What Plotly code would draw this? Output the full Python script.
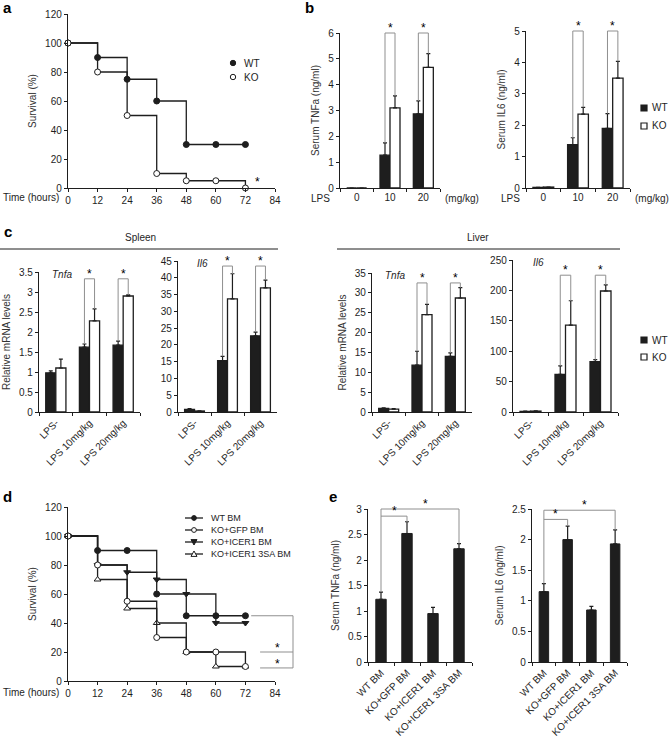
import plotly.graph_objects as go

W, H = 669, 744
FONT = "Liberation Sans, Arial, sans-serif"
INK = "#1e1e1e"
GRAY = "#8f8f8f"

# ---------------- data ----------------
time_h = [0, 12, 24, 36, 48, 60, 72]
surv_a_wt = [100, 90, 75, 60, 30, 30, 30]
surv_a_ko = [100, 80, 50, 10, 5, 5, 0]

lps_dose = ["0", "10", "20"]
tnf_serum_wt = [0.0, 1.27, 2.87]
tnf_serum_wt_err = [0.0, 0.48, 0.50]
tnf_serum_ko = [0.0, 3.10, 4.67]
tnf_serum_ko_err = [0.0, 0.47, 0.53]
il6_serum_wt = [0.02, 1.38, 1.90]
il6_serum_wt_err = [0.0, 0.22, 0.47]
il6_serum_ko = [0.03, 2.35, 3.50]
il6_serum_ko_err = [0.0, 0.22, 0.53]

lps_group = ["LPS-", "LPS 10mg/kg", "LPS 20mg/kg"]
spleen_tnf_wt = [0.98, 1.62, 1.67]
spleen_tnf_wt_err = [0.05, 0.08, 0.10]
spleen_tnf_ko = [1.10, 2.28, 2.90]
spleen_tnf_ko_err = [0.22, 0.30, 0.03]
spleen_il6_wt = [0.8, 15.3, 22.7]
spleen_il6_wt_err = [0.2, 1.3, 1.1]
spleen_il6_ko = [0.3, 33.7, 37.0]
spleen_il6_ko_err = [0.05, 7.5, 2.3]
liver_tnf_wt = [0.9, 11.8, 14.0]
liver_tnf_wt_err = [0.15, 3.5, 0.9]
liver_tnf_ko = [0.7, 24.5, 28.7]
liver_tnf_ko_err = [0.15, 2.6, 2.6]
liver_il6_wt = [1.0, 62.0, 83.0]
liver_il6_wt_err = [0.3, 14.0, 3.0]
liver_il6_ko = [1.5, 143.0, 199.0]
liver_il6_ko_err = [0.3, 40.0, 10.0]

surv_d_wt = [100, 90, 90, 60, 45, 45, 45]
surv_d_gfp = [100, 80, 55, 30, 20, 20, 10]
surv_d_icer1 = [100, 80, 75, 70, 60, 40, 40]
surv_d_3sa = [100, 70, 50, 40, 20, 10, 10]

bm_group = ["WT BM", "KO+GFP BM", "KO+ICER1 BM", "KO+ICER1 3SA BM"]
tnf_bm = [1.23, 2.52, 0.95, 2.22]
tnf_bm_err = [0.14, 0.23, 0.12, 0.10]
il6_bm = [1.15, 2.00, 0.85, 1.93]
il6_bm_err = [0.13, 0.22, 0.06, 0.23]

# ---------------- helpers ----------------
def fx(p):
    return p / W


def fy(p):
    return 1 - p / H


fig = go.Figure()
layout = {}
shapes = []
annos = []

tick_font = dict(family=FONT, size=10, color=INK)


def make_axes(n, x0, x1, y0, y1, xkw, ykw):
    s = "" if n == 1 else str(n)
    base = dict(showline=True, linecolor=INK, linewidth=1.2, ticks="outside",
                ticklen=3, tickwidth=1, tickcolor=INK, showgrid=False,
                zeroline=False, tickfont=tick_font, fixedrange=True, automargin=False)
    xa = dict(base, domain=[fx(x0), fx(x1)], anchor="y" + s)
    xa.update(xkw)
    ya = dict(base, domain=[fy(y1), fy(y0)], anchor="x" + s)
    ya.update(ykw)
    layout["xaxis" + s] = xa
    layout["yaxis" + s] = ya
    return "x" + s, "y" + s


def ytitle(t):
    return dict(title=dict(text=t, font=dict(family=FONT, size=10, color="#333"), standoff=6))


def surv_trace(xa, ya, y, symbol, filled):
    fig.add_trace(go.Scatter(
        x=time_h, y=y, xaxis=xa, yaxis=ya, mode="lines+markers",
        line=dict(color=INK, width=1.3, shape="hv"), cliponaxis=False,
        marker=dict(symbol=symbol, size=6, color=INK if filled else "white",
                    line=dict(color=INK, width=1)),
        showlegend=False, hoverinfo="skip"))


def bar_pair(xa, ya, cats, wt, wt_err, ko, ko_err):
    for vals, err, fill, off in ((wt, wt_err, INK, -0.3), (ko, ko_err, "white", 0.0)):
        fig.add_trace(go.Bar(
            x=cats, y=vals, xaxis=xa, yaxis=ya, width=0.3, offset=off,
            marker=dict(color=fill, line=dict(color=INK, width=1.3)),
            error_y=dict(type="data", array=err, arrayminus=[0] * len(err),
                         symmetric=False, color=INK, thickness=1.2, width=2),
            showlegend=False, hoverinfo="skip"))


def vline(xa, ya, x, ya0, ya1, ymax, color=GRAY):
    shapes.append(dict(type="line", xref=xa, yref=ya + " domain", x0=x, x1=x,
                       y0=ya0 / ymax, y1=ya1 / ymax, line=dict(color=color, width=1)))


def hline(xa, ya, x0, x1, y, ymax, color=GRAY):
    shapes.append(dict(type="line", xref=xa, yref=ya + " domain", x0=x0, x1=x1,
                       y0=y / ymax, y1=y / ymax, line=dict(color=color, width=1)))


def star(xref, yref, x, y, yshift=-4):
    annos.append(dict(text="*", xref=xref, yref=yref, x=x, y=y, showarrow=False,
                      xanchor="center", yanchor="bottom", yshift=yshift,
                      font=dict(family=FONT, size=12, color="#000")))


def pair_brackets(xa, ya, wt, wt_err, ko, ko_err, top, ymax, idx=(1, 2)):
    for i in idx:
        l, r = i - 0.15, i + 0.15
        vline(xa, ya, l, wt[i] + wt_err[i], top, ymax)
        hline(xa, ya, l, r, top, ymax)
        vline(xa, ya, r, ko[i] + ko_err[i], top, ymax)
        star(xa, ya + " domain", i, top / ymax)


def text(x, y, t, size=10, xanchor="center", italic=False, bold=False, color=INK):
    if italic:
        t = "<i>" + t + "</i>"
    if bold:
        t = "<b>" + t + "</b>"
    annos.append(dict(text=t, xref="paper", yref="paper", x=fx(x), y=fy(y),
                      showarrow=False, xanchor=xanchor, yanchor="middle",
                      font=dict(family=FONT, size=size, color=color)))


def key_circle(cx, cy, r, filled):
    shapes.append(dict(type="circle", xref="paper", yref="paper",
                       x0=fx(cx - r), x1=fx(cx + r), y0=fy(cy + r), y1=fy(cy - r),
                       fillcolor=INK if filled else "white", line=dict(color=INK, width=1)))


def key_rect(cx, cy, s, filled):
    shapes.append(dict(type="rect", xref="paper", yref="paper",
                       x0=fx(cx - s), x1=fx(cx + s), y0=fy(cy + s), y1=fy(cy - s),
                       fillcolor=INK if filled else "white", line=dict(color=INK, width=1.2)))


def key_tri(cx, cy, s, down, filled):
    if down:
        pts = [(cx - s, cy - s * 0.8), (cx + s, cy - s * 0.8), (cx, cy + s)]
    else:
        pts = [(cx - s, cy + s * 0.8), (cx + s, cy + s * 0.8), (cx, cy - s)]
    path = "M " + " L ".join(f"{fx(px):.5f},{fy(py):.5f}" for px, py in pts) + " Z"
    shapes.append(dict(type="path", xref="paper", yref="paper", path=path,
                       fillcolor=INK if filled else "white", line=dict(color=INK, width=1)))


def key_line(x0, x1, y):
    shapes.append(dict(type="line", xref="paper", yref="paper", x0=fx(x0), x1=fx(x1),
                       y0=fy(y), y1=fy(y), line=dict(color=INK, width=1.3)))


surv_x = dict(range=[0, 84], tick0=0, dtick=12)
surv_y = dict(range=[0, 120], tick0=0, dtick=20)


def cat_x(n):
    return dict(type="category", tickson="boundaries", range=[-0.5, n - 0.5])


# ---------------- panel a ----------------
xa, ya = make_axes(1, 68, 275, 14, 188, surv_x, dict(surv_y, **ytitle("Survival (%)")))
surv_trace(xa, ya, surv_a_wt, "circle", True)
surv_trace(xa, ya, surv_a_ko, "circle", False)
star(xa, ya, 77, 1, yshift=-4)
text(61, 197, "Time (hours)", xanchor="right")
key_circle(233, 63, 2.7, True)
key_circle(233, 77, 2.7, False)
text(242, 63, "WT", xanchor="left")
text(242, 77, "KO", xanchor="left")

# ---------------- panel b ----------------
xa, ya = make_axes(2, 340, 440, 33, 188, dict(cat_x(3), tickangle=0),
                   dict(range=[0, 6], dtick=1, **ytitle("Serum TNFa (ng/ml)")))
bar_pair(xa, ya, lps_dose, tnf_serum_wt, tnf_serum_wt_err, tnf_serum_ko, tnf_serum_ko_err)
pair_brackets(xa, ya, tnf_serum_wt, tnf_serum_wt_err, tnf_serum_ko, tnf_serum_ko_err, 6.0, 6)

xa, ya = make_axes(3, 526, 630, 31, 188, dict(cat_x(3), tickangle=0),
                   dict(range=[0, 5], dtick=1, **ytitle("Serum IL6 (ng/ml)")))
bar_pair(xa, ya, lps_dose, il6_serum_wt, il6_serum_wt_err, il6_serum_ko, il6_serum_ko_err)
pair_brackets(xa, ya, il6_serum_wt, il6_serum_wt_err, il6_serum_ko, il6_serum_ko_err, 5.0, 5)

text(320, 198, "LPS")
text(462, 198, "(mg/kg)")
text(511, 198, "LPS")
text(652, 198, "(mg/kg)")
key_rect(644, 108, 3, True)
key_rect(644, 126, 3, False)
text(650, 108, "WT", xanchor="left")
text(650, 126, "KO", xanchor="left")

# ---------------- panel c ----------------
c_specs = [
    (4, 39, 140, 272, 3.5, 0.5, "Relative mRNA levels", spleen_tnf_wt, spleen_tnf_wt_err,
     spleen_tnf_ko, spleen_tnf_ko_err, 3.33, "Tnfa", 62),
    (5, 178, 277, 261, 45, 5, None, spleen_il6_wt, spleen_il6_wt_err,
     spleen_il6_ko, spleen_il6_ko_err, 43.5, "Il6", 202),
    (6, 372, 472, 273, 35, 5, "Relative mRNA levels", liver_tnf_wt, liver_tnf_wt_err,
     liver_tnf_ko, liver_tnf_ko_err, 32.5, "Tnfa", 395),
    (7, 513, 618, 260, 250, 50, None, liver_il6_wt, liver_il6_wt_err,
     liver_il6_ko, liver_il6_ko_err, 225, "Il6", 538),
]
for n, x0, x1, y0, ymax, dt, yt, wt, wte, ko, koe, top, gene, gx in c_specs:
    ykw = dict(range=[0, ymax], dtick=dt)
    if yt:
        ykw.update(ytitle(yt))
    xa, ya = make_axes(n, x0, x1, y0, 412, dict(cat_x(3), tickangle=-45), ykw)
    bar_pair(xa, ya, lps_group, wt, wte, ko, koe)
    pair_brackets(xa, ya, wt, wte, ko, koe, top, ymax)
    text(gx, y0 + 2, gene, italic=True)

text(140, 238, "Spleen")
text(478, 238, "Liver")
shapes.append(dict(type="line", xref="paper", yref="paper", x0=fx(0), x1=fx(278),
                   y0=fy(249), y1=fy(249), line=dict(color=INK, width=1)))
shapes.append(dict(type="line", xref="paper", yref="paper", x0=fx(337), x1=fx(620),
                   y0=fy(249), y1=fy(249), line=dict(color=INK, width=1)))
key_rect(644, 340, 3, True)
key_rect(644, 357, 3, False)
text(650, 340, "WT", xanchor="left")
text(650, 357, "KO", xanchor="left")

# ---------------- panel d ----------------
xa, ya = make_axes(8, 68, 275, 507, 681, surv_x, dict(surv_y, **ytitle("Survival (%)")))
surv_trace(xa, ya, surv_d_wt, "circle", True)
surv_trace(xa, ya, surv_d_icer1, "triangle-down", True)
surv_trace(xa, ya, surv_d_3sa, "triangle-up", False)
surv_trace(xa, ya, surv_d_gfp, "circle", False)
text(61, 692, "Time (hours)", xanchor="right")
# comparison brackets on the right of the curves
dx = xa + " domain"
for y0_, y1_, xl in ((surv_d_wt[-1], surv_d_wt[-1], 0.885), (20, 20, 0.928), (9, 9, 0.928)):
    shapes.append(dict(type="line", xref=dx, yref=ya, x0=xl, x1=1.087, y0=y0_, y1=y1_,
                       line=dict(color=GRAY, width=1)))
shapes.append(dict(type="line", xref=dx, yref=ya, x0=1.087, x1=1.087, y0=surv_d_wt[-1], y1=9,
                   line=dict(color=GRAY, width=1)))
star(dx, ya, 1.01, 20, yshift=-5)
star(dx, ya, 1.01, 9, yshift=-5)
# legend
rows = [(518, "WT BM", "c", True), (530, "KO+GFP BM", "c", False),
        (542, "KO+ICER1 BM", "td", True), (554, "KO+ICER1 3SA BM", "tu", False)]
for yy, lab, kind, filled in rows:
    key_line(185, 203, yy)
    if kind == "c":
        key_circle(194, yy, 2.4, filled)
    else:
        key_tri(194, yy, 3, kind == "td", filled)
    text(209, yy, lab, size=9, xanchor="left")

# ---------------- panel e ----------------
for n, x0, x1, vals, errs, yt, ymax, inner, outer in (
        (9, 368, 472, tnf_bm, tnf_bm_err, "Serum TNFa (ng/ml)", 3.0, 2.86, 3.0),
        (10, 532, 627, il6_bm, il6_bm_err, "Serum IL6 (ng/ml)", 2.5, 2.33, 2.48)):
    xa, ya = make_axes(n, x0, x1, 509, 662, dict(cat_x(4), tickangle=-45),
                       dict(range=[0, ymax], dtick=0.5, **ytitle(yt)))
    fig.add_trace(go.Bar(
        x=bm_group, y=vals, xaxis=xa, yaxis=ya, width=0.4, offset=-0.2,
        marker=dict(color=INK, line=dict(color=INK, width=1)),
        error_y=dict(type="data", array=errs, arrayminus=[0] * len(errs), symmetric=False,
                     color=INK, thickness=1.2, width=2),
        showlegend=False, hoverinfo="skip"))
    vline(xa, ya, 0, vals[0] + errs[0], outer, ymax)
    hline(xa, ya, 0, 1, inner, ymax)
    vline(xa, ya, 1, vals[1] + errs[1], inner, ymax)
    hline(xa, ya, 0, 3, outer, ymax)
    vline(xa, ya, 3, vals[3] + errs[3], outer, ymax)
    star(xa, ya + " domain", 0.5, inner / ymax)
    star(xa, ya + " domain", 1.7, outer / ymax)

# ---------------- panel letters ----------------
for lx, ly, t in ((7, 8, "a"), (309, 8, "b"), (8, 232, "c"), (7, 496, "d"), (333, 496, "e")):
    text(lx, ly, t, size=15, bold=True, color="#000")

layout.update(dict(
    template="none",
    width=W, height=H, margin=dict(l=0, r=0, t=0, b=0, autoexpand=False),
    paper_bgcolor="white", plot_bgcolor="white",
    font=dict(family=FONT, size=10, color=INK),
    showlegend=False, barmode="overlay",
    shapes=shapes, annotations=annos,
))
fig.update_layout(**layout)
fig.write_html("out.html", config={"displayModeBar": False, "staticPlot": True},
               post_script="document.body.style.margin='0';")
